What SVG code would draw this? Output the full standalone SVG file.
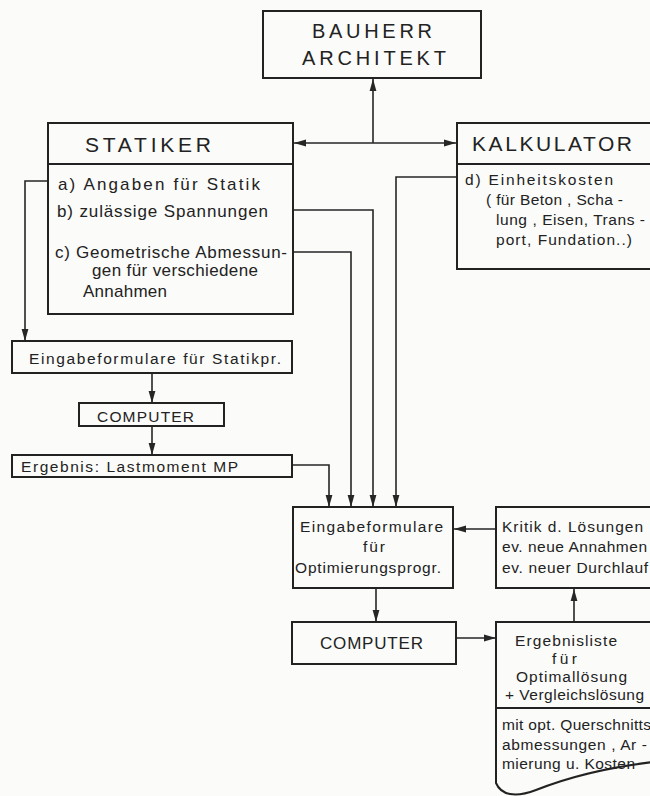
<svg xmlns="http://www.w3.org/2000/svg" width="650" height="796" viewBox="0 0 650 796">
<defs>
<style>
.box{fill:none;stroke:#222;stroke-width:2}
.ln{fill:none;stroke:#262626;stroke-width:1.6}
text{font-family:"Liberation Sans",Arial,sans-serif;fill:#222}
.h{font-size:20px}
.h2{font-size:21px}
.m{font-size:17px}
.s{font-size:15.5px}
</style>
<marker id="ah" viewBox="0 0 12 8" refX="12" refY="4" markerWidth="12" markerHeight="8" markerUnits="userSpaceOnUse" orient="auto-start-reverse">
<path d="M0,0.6 L12,4 L0,7.4 Z" fill="#262626"/>
</marker>
</defs>
<rect width="650" height="796" fill="#fbfbf9"/>

<g id="connectors">
<path class="ln" d="M373,143 V79" marker-end="url(#ah)"/>
<path class="ln" d="M294,143 H456" marker-start="url(#ah)" marker-end="url(#ah)"/>
<path class="ln" d="M48,181 H25 V341" marker-end="url(#ah)"/>
<path class="ln" d="M152,373 V403" marker-end="url(#ah)"/>
<path class="ln" d="M152,426 V455" marker-end="url(#ah)"/>
<path class="ln" d="M292,465 H329 V507" marker-end="url(#ah)"/>
<path class="ln" d="M293,252 H351 V507" marker-end="url(#ah)"/>
<path class="ln" d="M293,210 H373 V507" marker-end="url(#ah)"/>
<path class="ln" d="M457,177 H396 V507" marker-end="url(#ah)"/>
<path class="ln" d="M496,529 H454" marker-end="url(#ah)"/>
<path class="ln" d="M376,588 V622" marker-end="url(#ah)"/>
<path class="ln" d="M456,638 H496" marker-end="url(#ah)"/>
<path class="ln" d="M574,622 V589" marker-end="url(#ah)"/>
</g>

<g id="bauherr">
<rect class="box" x="263" y="11" width="218" height="67"/>
<text class="h" x="312" y="38" textLength="120" lengthAdjust="spacing">BAUHERR</text>
<text class="h" x="302" y="65" textLength="144" lengthAdjust="spacing">ARCHITEKT</text>
</g>

<g id="statiker">
<rect class="box" x="48" y="123" width="245" height="191"/>
<line class="box" x1="48" y1="164" x2="293" y2="164"/>
<text class="h2" x="85" y="152" textLength="126" lengthAdjust="spacing">STATIKER</text>
<text class="m" x="58" y="190" textLength="202" lengthAdjust="spacing">a)  Angaben  für  Statik</text>
<text class="m" x="57" y="217" textLength="211" lengthAdjust="spacing">b)  zulässige  Spannungen</text>
<text class="m" x="55" y="258" textLength="232" lengthAdjust="spacing">c) Geometrische Abmessun-</text>
<text class="m" x="92" y="276" textLength="166" lengthAdjust="spacing">gen für verschiedene</text>
<text class="m" x="83" y="297" textLength="84" lengthAdjust="spacing">Annahmen</text>
</g>

<g id="kalkulator">
<rect class="box" x="457" y="123" width="205" height="146"/>
<line class="box" x1="457" y1="164" x2="662" y2="164"/>
<text class="h2" x="472" y="151" textLength="160" lengthAdjust="spacing">KALKULATOR</text>
<text class="s" x="465" y="185" textLength="148" lengthAdjust="spacing">d)  Einheitskosten</text>
<text class="s" x="486" y="205" textLength="137" lengthAdjust="spacing">( für Beton , Scha -</text>
<text class="s" x="496" y="225" textLength="149" lengthAdjust="spacing">lung , Eisen, Trans -</text>
<text class="s" x="496" y="245" textLength="136" lengthAdjust="spacing">port, Fundation..)</text>
</g>

<g id="eingabe-statik">
<rect class="box" x="12" y="341" width="280" height="32"/>
<text class="s" x="29" y="364" textLength="252" lengthAdjust="spacing">Eingabeformulare  für  Statikpr.</text>
</g>

<g id="computer1">
<rect class="box" x="79" y="403" width="145" height="23"/>
<text class="s" x="97" y="422" textLength="97" lengthAdjust="spacing">COMPUTER</text>
</g>

<g id="ergebnis">
<rect class="box" x="12" y="455" width="280" height="22"/>
<text class="s" x="21" y="472" textLength="217" lengthAdjust="spacing">Ergebnis: Lastmoment  MP</text>
</g>

<g id="eingabe-opt">
<rect class="box" x="293" y="507" width="160" height="81"/>
<text class="s" x="300" y="532" textLength="143" lengthAdjust="spacing">Eingabeformulare</text>
<text class="s" x="363" y="552" textLength="22" lengthAdjust="spacing">für</text>
<text class="s" x="295" y="573" textLength="146" lengthAdjust="spacing">Optimierungsprogr.</text>
</g>

<g id="kritik">
<rect class="box" x="496" y="507" width="166" height="81"/>
<text class="s" x="502" y="532" textLength="141" lengthAdjust="spacing">Kritik  d. Lösungen</text>
<text class="s" x="502" y="552" textLength="145" lengthAdjust="spacing">ev. neue Annahmen</text>
<text class="s" x="502" y="573" textLength="146" lengthAdjust="spacing">ev. neuer Durchlauf</text>
</g>

<g id="computer2">
<rect class="box" x="292" y="622" width="164" height="42"/>
<text class="m" x="320" y="649" textLength="103" lengthAdjust="spacing">COMPUTER</text>
</g>

<g id="ergebnisliste">
<path class="box" d="M662,622 H496 V783 C501,795 515,798 536,790 C566,778 605,767 662,761"/>
<line class="box" x1="496" y1="708" x2="662" y2="708"/>
<text class="s" x="515" y="646" textLength="102" lengthAdjust="spacing">Ergebnisliste</text>
<text class="s" x="552" y="664" textLength="25" lengthAdjust="spacing">für</text>
<text class="s" x="516" y="682" textLength="111" lengthAdjust="spacing">Optimallösung</text>
<text class="s" x="505" y="700" textLength="139" lengthAdjust="spacing">+ Vergleichslösung</text>
<text class="s" x="502" y="730" textLength="149" lengthAdjust="spacing">mit opt. Querschnitts</text>
<text class="s" x="502" y="750" textLength="145" lengthAdjust="spacing">abmessungen , Ar -</text>
<text class="s" x="502" y="769" textLength="133" lengthAdjust="spacing">mierung u. Kosten</text>
</g>
</svg>
